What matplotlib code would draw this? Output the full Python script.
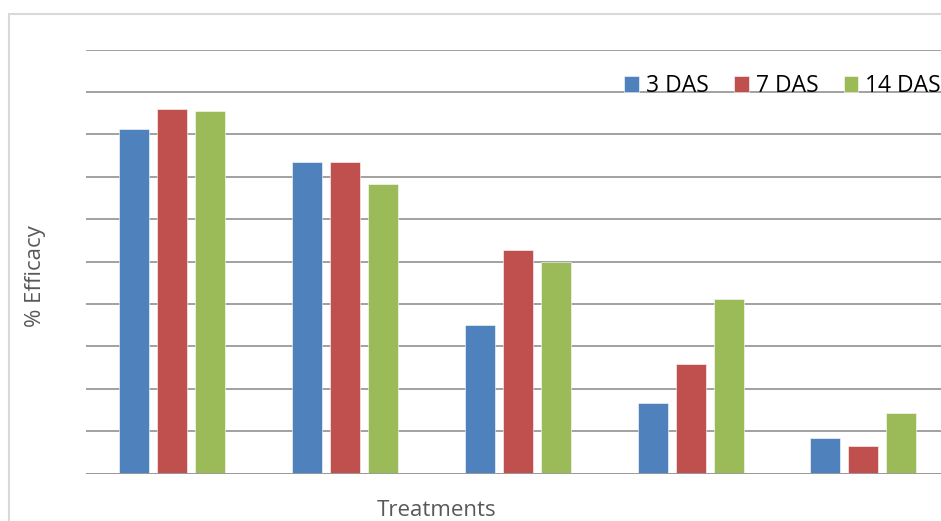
import matplotlib.pyplot as plt
from matplotlib.patches import Rectangle
import numpy as np

treatments = ["T1", "T2", "T3", "T4", "T5"]
das_3 = [81.2, 73.4, 35.1, 16.6, 8.3]
das_7 = [86.0, 73.5, 52.7, 25.9, 6.5]
das_14 = [85.5, 68.2, 50.0, 41.1, 14.3]
series_names = ["3 DAS", "7 DAS", "14 DAS"]
colors = ["#4F81BD", "#C0504D", "#9BBB59"]

W, H = 941, 521
fig = plt.figure(figsize=(W / 100, H / 100), dpi=100)

# light chart-area frame (left and top edges show)
fig.patches.append(Rectangle((9 / W, -0.1), 1.2, (H - 14) / H + 0.1,
                             transform=fig.transFigure, fill=False,
                             edgecolor="#d9d9d9", linewidth=1.5))

ax = fig.add_axes([86 / W, 47.3 / H, 1 - 86 / W, (471.5 - 47.3) / H])

x = np.arange(len(treatments))
width = 0.174
step = 0.22
for i, (vals, name, c) in enumerate(zip([das_3, das_7, das_14], series_names, colors)):
    ax.bar(x + (i - 1) * step, vals, width, color=c, label=name,
           edgecolor="white", linewidth=0.4, zorder=3)

ax.set_xlim(-0.5, 4.45)
ax.set_ylim(0, 100)
ax.set_yticks(np.arange(0, 101, 10))
ax.yaxis.grid(True, color="#9a9a9a", linewidth=1.3, zorder=0)
ax.tick_params(left=False, bottom=False, labelleft=False, labelbottom=False)
for s in ax.spines.values():
    s.set_visible(False)
ax.axhline(0, color="#9a9a9a", linewidth=1.3, zorder=4)

fig.text(36 / W, 1 - 276 / H, "% Efficacy", rotation=90, ha="center", va="center",
         fontsize=16, color="#595959", family="Open Sans")
fig.text(437 / W, 1 - 511 / H, "Treatments", ha="center", va="center",
         fontsize=16, color="#595959", family="Open Sans")

leg = fig.legend(loc="center right", bbox_to_anchor=(1.0, 1 - 86 / H), ncol=3,
                 frameon=False, handlelength=0.65, handleheight=0.65,
                 handletextpad=0.3, columnspacing=1.1, borderpad=0, borderaxespad=0,
                 prop={"family": "Open Sans", "size": 16.5})

fig.savefig("out.png", dpi=100)
